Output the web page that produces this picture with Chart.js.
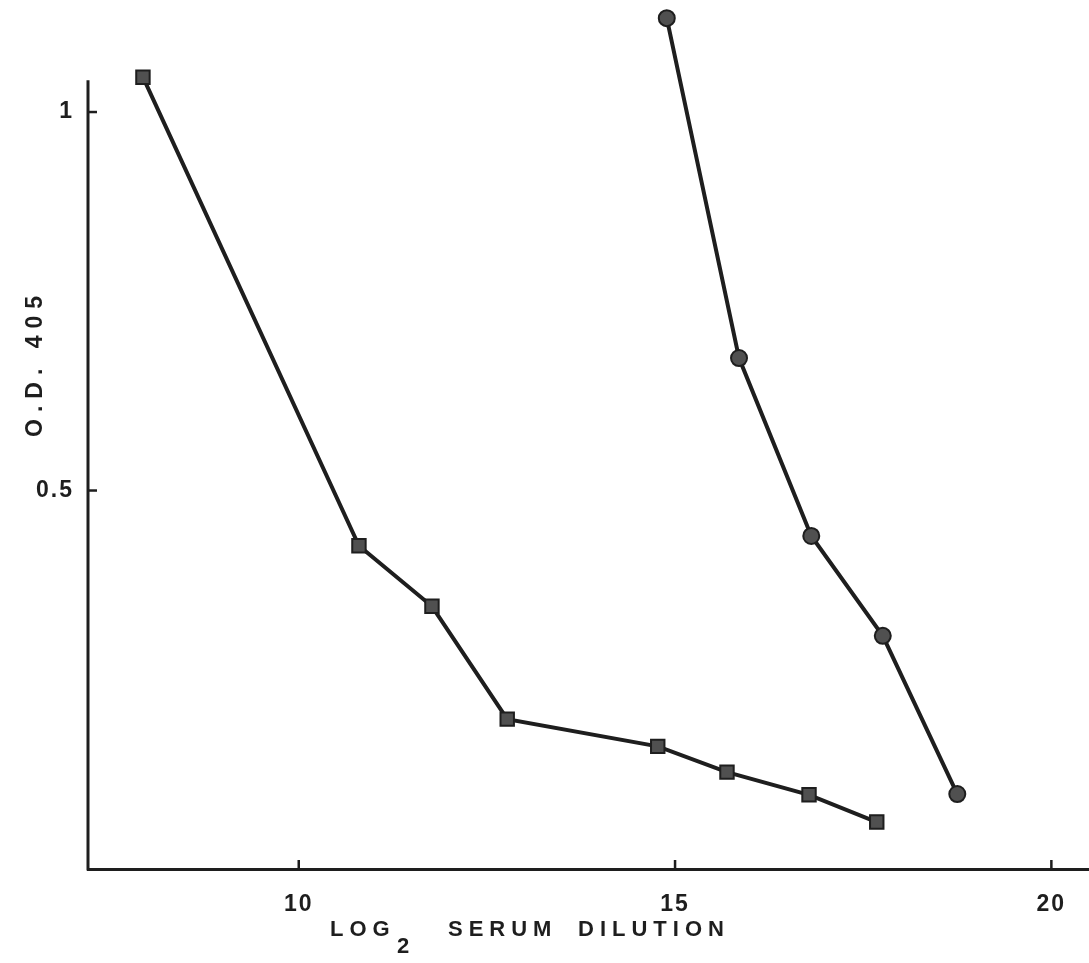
<!DOCTYPE html>
<html>
<head>
<meta charset="utf-8">
<script src="https://cdn.jsdelivr.net/npm/chart.js@4/dist/chart.umd.min.js"></script>
<style>
  body { margin: 0; background: #fff; }
  canvas { display: block; }
</style>
</head>
<body>
<canvas id="odChart" width="1089" height="963"></canvas>
<script>
// log2 serum dilution vs O.D. 405
const squareDilution = [7.93, 10.80, 11.77, 12.77, 14.77, 15.69, 16.78, 17.68];
const squareOD = [1.046, 0.427, 0.347, 0.198, 0.162, 0.128, 0.098, 0.062];
const circleDilution = [14.89, 15.85, 16.81, 17.76, 18.75];
const circleOD = [1.124, 0.675, 0.440, 0.308, 0.099];
const xTickValues = [10, 15, 20];
const yTickValues = [0.5, 1];
const yAxisTop = 1.042; // the drawn y axis stops here, points go above it

const ink = '#1e1e1e';
const fontFamily = '"Liberation Sans", Arial, sans-serif';

function toPoints(xs, ys) {
    return xs.map((x, i) => ({ x: x, y: ys[i] }));
}

// y axis line, inward tick marks and hand placed axis titles
const axisDecor = {
    id: 'axisDecor',
    beforeDraw(chart) {
        chart.ctx.letterSpacing = '2px';
    },
    afterDraw(chart) {
        const ctx = chart.ctx;
        const xs = chart.scales.x, ys = chart.scales.y;
        const area = chart.chartArea;
        ctx.save();
        ctx.strokeStyle = ink;
        ctx.lineWidth = 3;
        ctx.beginPath();
        ctx.moveTo(area.left, ys.getPixelForValue(yAxisTop));
        ctx.lineTo(area.left, area.bottom + 1.5);
        ctx.stroke();

        ctx.lineWidth = 2.5;
        xTickValues.forEach(v => {
            const px = xs.getPixelForValue(v);
            ctx.beginPath();
            ctx.moveTo(px, area.bottom);
            ctx.lineTo(px, area.bottom - 9);
            ctx.stroke();
        });
        yTickValues.forEach(v => {
            const py = ys.getPixelForValue(v);
            ctx.beginPath();
            ctx.moveTo(area.left, py);
            ctx.lineTo(area.left + 9, py);
            ctx.stroke();
        });

        ctx.fillStyle = ink;
        ctx.textBaseline = 'alphabetic';
        ctx.textAlign = 'left';
        ctx.letterSpacing = '6px';
        ctx.font = 'bold 22px ' + fontFamily;
        ctx.fillText('LOG', 330, 936);
        ctx.fillText('2', 397, 953);
        ctx.fillText('SERUM', 448, 936);
        ctx.fillText('DILUTION', 578, 936);

        ctx.translate(42, 437);
        ctx.rotate(-Math.PI / 2);
        ctx.font = 'bold 23px ' + fontFamily;
        ctx.letterSpacing = '7px';
        ctx.fillText('O.D. 405', 0, 0);
        ctx.restore();
        ctx.letterSpacing = '0px';
    }
};

const chart = new Chart(document.getElementById('odChart').getContext('2d'), {
    type: 'scatter',
    data: {
        datasets: [{
            label: 'squares',
            data: toPoints(squareDilution, squareOD),
            showLine: true,
            borderColor: ink,
            borderWidth: 4,
            pointStyle: 'rect',
            pointRadius: 9.5,
            pointBackgroundColor: '#505050',
            pointBorderColor: ink,
            pointBorderWidth: 2
        }, {
            label: 'circles',
            data: toPoints(circleDilution, circleOD),
            showLine: true,
            borderColor: ink,
            borderWidth: 4,
            pointStyle: 'circle',
            pointRadius: 8,
            pointBackgroundColor: '#505050',
            pointBorderColor: ink,
            pointBorderWidth: 2
        }]
    },
    options: {
        responsive: false,
        animation: false,
        layout: { padding: 0, autoPadding: false },
        plugins: {
            legend: { display: false },
            tooltip: { enabled: false }
        },
        scales: {
            x: {
                type: 'linear',
                min: 7.2,
                max: 20.5,
                afterBuildTicks: s => { s.ticks = xTickValues.map(v => ({ value: v })); },
                afterFit: s => { s.height = 94; s.paddingLeft = 0; s.paddingRight = 0; },
                grid: { display: false },
                border: { display: true, color: ink, width: 3 },
                ticks: {
                    color: ink,
                    padding: 14,
                    font: { family: fontFamily, size: 23, weight: 'bold' }
                }
            },
            y: {
                type: 'linear',
                min: 0,
                max: 1.148,
                afterBuildTicks: s => { s.ticks = yTickValues.map(v => ({ value: v })); },
                afterFit: s => { s.width = 88; s.paddingTop = 0; s.paddingBottom = 0; },
                grid: { display: false },
                border: { display: false },
                ticks: {
                    color: ink,
                    padding: 6,
                    callback: v => String(v),
                    font: { family: fontFamily, size: 23, weight: 'bold' }
                }
            }
        }
    },
    plugins: [axisDecor]
});
</script>
</body>
</html>
